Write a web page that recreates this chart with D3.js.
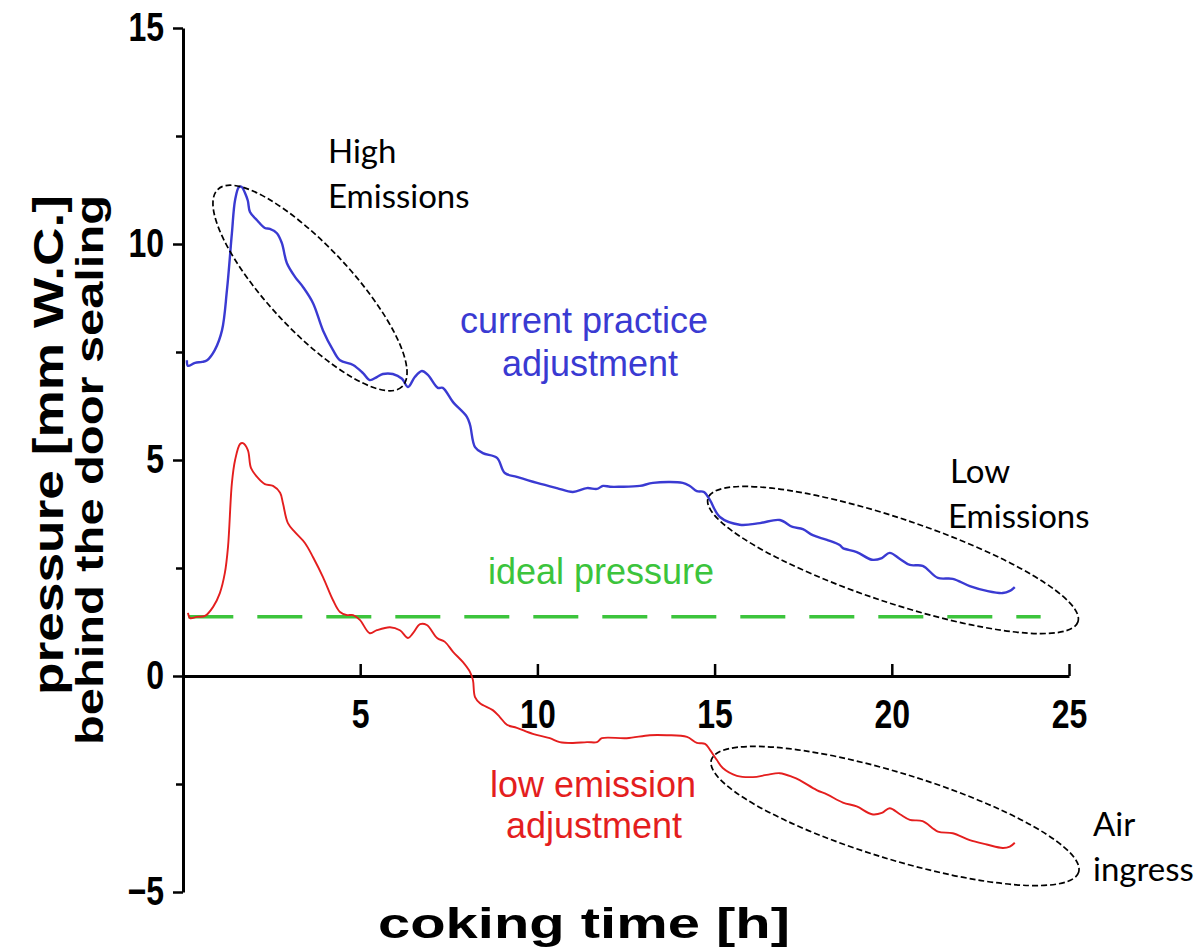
<!DOCTYPE html>
<html><head><meta charset="utf-8">
<script src="https://cdn.jsdelivr.net/npm/d3@7"></script>
<style>body{margin:0;background:#fff}svg{display:block}</style>
</head><body>
<svg id="c" width="1202" height="948"></svg>
<script>
// ---- data ----
const blueT = [0.11,0.14,0.34,0.54,0.68,0.9,1.1,1.24,1.38,1.47,1.58,1.66,1.75,1.83,1.89,2.09,2.31,2.45,2.65,2.79,2.93,3.16,3.39,3.67,3.95,4.23,4.43,4.8,5.08,5.27,5.47,5.64,5.92,6.18,6.35,6.54,6.74,6.91,7.19,7.33,7.62,8.01,8.10,8.24,8.46,8.86,9.08,9.42,9.99,10.55,11.0,11.4,11.68,11.85,12.05,12.33,12.89,13.26,14.1,14.3,14.5,14.7,14.87,15.15,15.71,16.28,16.84,17.2,17.49,17.77,18.17,18.53,18.62,19.01,19.44,19.72,19.94,20.23,20.51,20.87,21.3,21.72,22.2,22.68,23.13,23.33,23.47];
const blueV = [7.31,7.18,7.25,7.27,7.31,7.55,8.0,8.93,10.25,11.02,11.32,11.32,11.18,11.0,10.74,10.55,10.37,10.35,10.25,10.02,9.56,9.24,9.0,8.63,8.0,7.55,7.31,7.2,7.01,6.85,6.92,6.99,6.99,6.88,6.69,6.92,7.06,6.97,6.67,6.67,6.34,6.0,5.81,5.30,5.16,5.05,4.70,4.61,4.47,4.35,4.26,4.35,4.33,4.40,4.38,4.38,4.40,4.47,4.47,4.40,4.28,4.26,4.07,3.68,3.50,3.54,3.61,3.45,3.40,3.26,3.15,3.03,2.96,2.87,2.69,2.73,2.85,2.71,2.57,2.55,2.27,2.25,2.08,1.97,1.92,1.97,2.06];
const redT = [0.14,0.2,0.39,0.62,0.85,1.04,1.18,1.27,1.38,1.47,1.61,1.69,1.83,1.92,2.12,2.31,2.54,2.74,2.82,2.96,3.16,3.44,3.67,3.95,4.23,4.43,4.63,4.8,4.99,5.27,5.47,5.84,6.12,6.35,6.49,6.69,6.88,7.17,7.39,7.62,7.9,8.1,8.18,8.24,8.38,8.74,8.94,9.14,9.42,9.87,10.35,10.63,11.0,11.4,11.68,11.82,12.52,13.17,13.65,14.22,14.5,14.73,14.87,15.06,15.23,15.63,16.08,16.47,16.84,17.21,17.4,17.88,18.17,18.62,19.01,19.44,19.72,19.94,20.23,20.51,20.87,21.3,21.72,22.2,22.68,23.13,23.33,23.47];
const redV = [1.46,1.34,1.37,1.39,1.6,1.92,2.38,2.99,4.47,5.0,5.37,5.39,5.23,4.81,4.58,4.44,4.4,4.24,4.0,3.54,3.33,3.08,2.75,2.29,1.76,1.48,1.41,1.41,1.30,0.99,1.06,1.13,1.06,0.88,0.99,1.2,1.18,0.88,0.79,0.56,0.32,0.09,-0.09,-0.49,-0.63,-0.79,-0.95,-1.13,-1.2,-1.34,-1.44,-1.53,-1.55,-1.53,-1.53,-1.44,-1.44,-1.37,-1.37,-1.41,-1.55,-1.57,-1.71,-1.94,-2.13,-2.31,-2.34,-2.29,-2.25,-2.34,-2.41,-2.64,-2.74,-2.93,-3.02,-3.2,-3.17,-3.06,-3.2,-3.33,-3.36,-3.6,-3.64,-3.8,-3.9,-3.98,-3.95,-3.86];
const idealT = [0.15, 24.2];
const idealV = 1.37;
const xTicks = [5,10,15,20,25];
const yTicks = [-5,0,5,10,15];
const yMinorTicks = [-2.5,2.5,7.5,12.5];

// ---- chart ----
const svg = d3.select('#c');
const x = d3.scaleLinear().domain([0,25]).range([183,1069]);
const y = d3.scaleLinear().domain([-5,15]).range([892,28]);
const tickFont = '"Liberation Sans",Arial,sans-serif';

function styleTicks(g){
  g.selectAll('.tick text').attr('font-size',40).attr('font-weight','bold')
    .attr('font-family',tickFont).attr('fill','#000')
    .each(function(){ const L=this.getComputedTextLength(); if(L>0){ d3.select(this).attr('textLength',L*0.8).attr('lengthAdjust','spacingAndGlyphs'); } });
}

// y axis
const gy = svg.append('g').attr('transform','translate(183,0)')
  .call(d3.axisLeft(y).tickValues(yTicks).tickSize(10).tickSizeOuter(0).tickPadding(9));
gy.select('.domain').attr('stroke-width',3).attr('stroke','#000');
gy.selectAll('.tick line').attr('stroke-width',2.5);
styleTicks(gy);
const gym = svg.append('g').attr('transform','translate(183,0)')
  .call(d3.axisLeft(y).tickValues(yMinorTicks).tickSize(7).tickSizeOuter(0).tickFormat(''));
gym.select('.domain').remove();
gym.selectAll('.tick line').attr('stroke-width',2.5);

// x axis
const gx = svg.append('g').attr('transform',`translate(0,${y(0)})`)
  .call(d3.axisBottom(x).tickValues(xTicks).tickSize(-12).tickSizeOuter(0).tickPadding(24));
gx.select('.domain').attr('stroke-width',3).attr('stroke','#000');
gx.selectAll('.tick line').attr('stroke-width',2.5);
styleTicks(gx);

// lines
const line = d3.line().x(d=>x(d[0])).y(d=>y(d[1])).curve(d3.curveCatmullRom.alpha(0.5));
svg.append('path').datum(idealT.map(t=>[t,idealV]))
  .attr('d',d3.line().x(d=>x(d[0])).y(d=>y(d[1])))
  .attr('stroke','#3cc43c').attr('stroke-width',3.5).attr('fill','none')
  .attr('stroke-dasharray','45,24');
svg.append('path').datum(blueT.map((t,i)=>[t,blueV[i]])).attr('d',line)
  .attr('stroke','#3a3ad2').attr('stroke-width',2.4).attr('fill','none');
svg.append('path').datum(redT.map((t,i)=>[t,redV[i]])).attr('d',line)
  .attr('stroke','#e41e1e').attr('stroke-width',1.9).attr('fill','none');

// ellipses
const ells = [[310,288,135,42,47],[893,560,195,42,18.5],[895,816,192,43,17]];
svg.selectAll('ellipse.e').data(ells).enter().append('ellipse')
  .attr('transform',d=>`translate(${d[0]},${d[1]}) rotate(${d[4]})`)
  .attr('rx',d=>d[2]).attr('ry',d=>d[3])
  .attr('fill','none').attr('stroke','#000').attr('stroke-width',1.7).attr('stroke-dasharray','6,3');

// series labels
const labFont = '"Liberation Sans",Arial,sans-serif';
function lab(txt,cx,by,col){svg.append('text').attr('x',cx).attr('y',by).attr('text-anchor','middle')
  .attr('font-family',labFont).attr('font-size',36).attr('fill',col).text(txt);}
lab('current practice',584,333,'#3a3ad2');
lab('adjustment',590,376,'#3a3ad2');
lab('ideal pressure',601,584,'#3cc43c');
lab('low emission',593,797,'#e41e1e');
lab('adjustment',594,838,'#e41e1e');

// annotations
const annFont = 'Lato,"Open Sans",sans-serif';
function ann(txt,lx,by){svg.append('text').attr('x',lx).attr('y',by).attr('font-family',annFont)
  .attr('font-size',33).attr('fill','#000').text(txt);}
ann('High',328,163); ann('Emissions',328,208);
ann('Low',950,483); ann('Emissions',948,528);
ann('Air',1093,836); ann('ingress',1093,881);

// axis titles
const titFont = '"Liberation Sans",Arial,sans-serif';
svg.append('text').attr('transform','translate(63,445) rotate(-90)').attr('text-anchor','middle')
  .attr('font-family',titFont).attr('font-weight','bold').attr('font-size',42)
  .attr('textLength',500).attr('lengthAdjust','spacingAndGlyphs').text('pressure [mm W.C.]');
svg.append('text').attr('transform','translate(103,470) rotate(-90)').attr('text-anchor','middle')
  .attr('font-family',titFont).attr('font-weight','bold').attr('font-size',38)
  .attr('textLength',550).attr('lengthAdjust','spacingAndGlyphs').text('behind the door sealing');
svg.append('text').attr('x',584).attr('y',938).attr('text-anchor','middle')
  .attr('font-family',titFont).attr('font-weight','bold').attr('font-size',42)
  .attr('textLength',412).attr('lengthAdjust','spacingAndGlyphs').text('coking time [h]');
</script>
</body></html>
